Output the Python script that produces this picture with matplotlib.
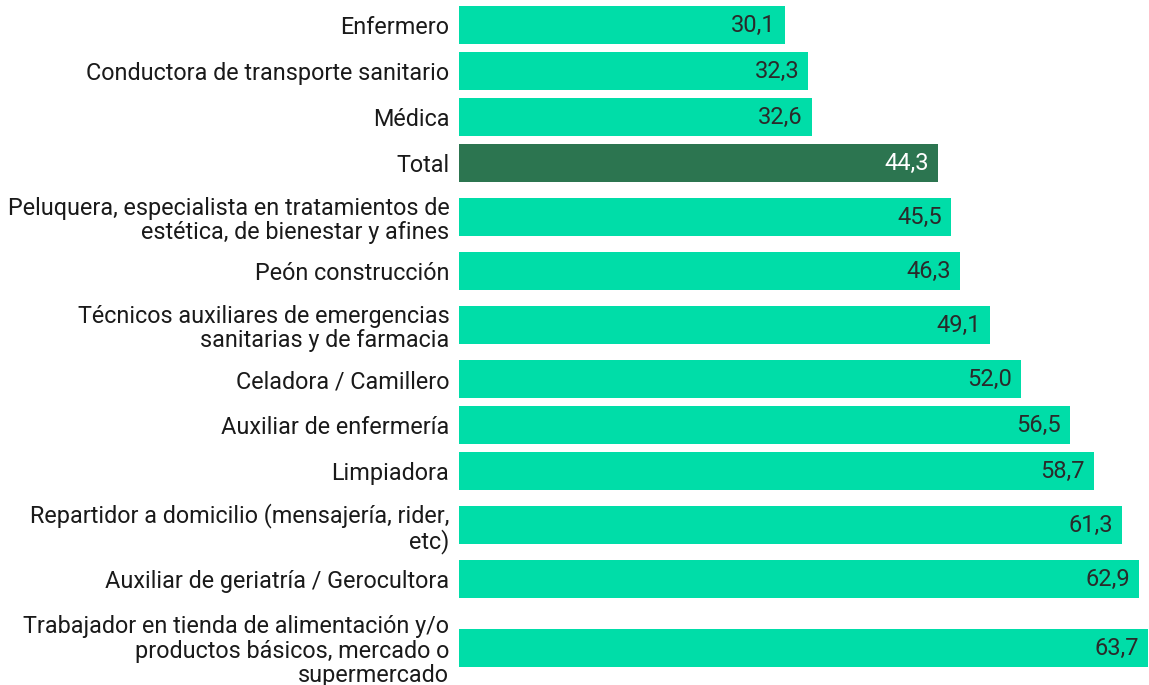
import matplotlib.pyplot as plt

plt.rcParams['font.family'] = ['Roboto', 'DejaVu Sans']

categorias = [
    "Enfermero",
    "Conductora de transporte sanitario",
    "Médica",
    "Total",
    "Peluquera, especialista en tratamientos de\nestética, de bienestar y afines",
    "Peón construcción",
    "Técnicos auxiliares de emergencias\nsanitarias y de farmacia",
    "Celadora / Camillero",
    "Auxiliar de enfermería",
    "Limpiadora",
    "Repartidor a domicilio (mensajería, rider,\netc)",
    "Auxiliar de geriatría / Gerocultora",
    "Trabajador en tienda de alimentación y/o\nproductos básicos, mercado o\nsupermercado",
]
valores = [30.1, 32.3, 32.6, 44.3, 45.5, 46.3, 49.1, 52.0, 56.5, 58.7, 61.3, 62.9, 63.7]

VERDE = "#00DDA8"
VERDE_OSCURO = "#2C7550"

# alto de cada fila segun el numero de lineas de la etiqueta (en pixeles)
alto_fila = {1: 46, 2: 62, 3: 92}
pos = []
y = 25
for i, c in enumerate(categorias):
    if i > 0:
        prev = categorias[i - 1].count("\n") + 1
        cur = c.count("\n") + 1
        y += (alto_fila[prev] + alto_fila[cur]) / 2
    pos.append(y)

W, H = 1149, 685
fig = plt.figure(figsize=(W / 100, H / 100), dpi=100)
ax = fig.add_axes([459 / W, 0, 1 - 459 / W, 1])

colores = [VERDE_OSCURO if c == "Total" else VERDE for c in categorias]
ax.barh(pos, valores, height=38, color=colores)

for p, v, c in zip(pos, valores, categorias):
    ax.annotate(f"{v:.1f}".replace(".", ","), xy=(v, p), xytext=(-9, 0),
                textcoords="offset pixels", ha="right", va="center",
                fontsize=17, color="white" if c == "Total" else "#2a2a2a")

ax.set_yticks(pos)
ax.set_yticklabels(categorias, fontsize=16.8, color="#1a1a1a", linespacing=1.06)
ax.tick_params(axis="y", length=0, pad=7)
ax.set_xticks([])
ax.set_xlim(0, 63.79)
ax.set_ylim(H, 0)
for s in ax.spines.values():
    s.set_visible(False)

fig.savefig("out.png", dpi=100)
